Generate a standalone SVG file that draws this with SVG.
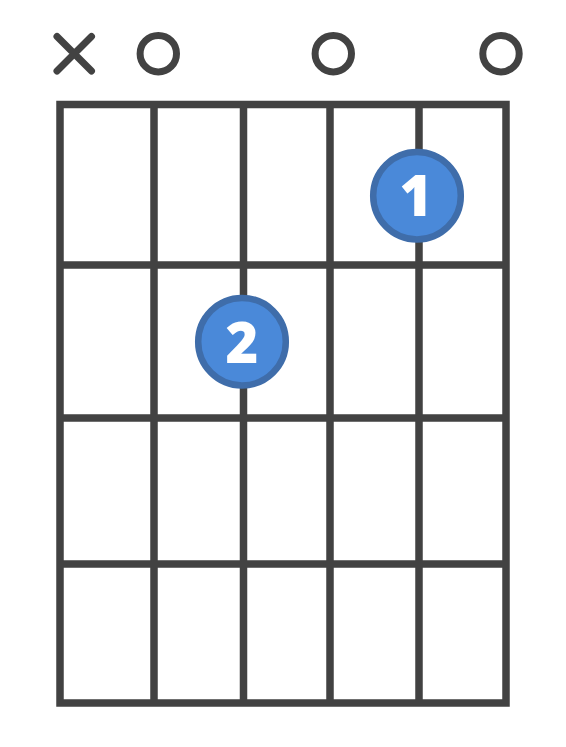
<svg xmlns="http://www.w3.org/2000/svg" width="566" height="747" viewBox="0 0 566 747">
<style>
.grid{stroke:#424242;stroke-width:7.5;fill:none;stroke-linecap:square}
.mark{stroke:#424242;stroke-width:7;fill:none;stroke-linecap:round}
.dot{fill:#4a89d9;stroke:#3f6daa;stroke-width:6.5}
.lbl{fill:#ffffff;font-family:"Open Sans","DejaVu Sans",sans-serif;font-weight:800;font-size:56px;text-anchor:middle}
</style>
<rect width="566" height="747" fill="#ffffff"/>
<g id="connectors">
<path class="grid" d="M60 104.5H506M60 265H506M60 418H506M60 564H506M60 703H506M60 104.5V703M154 104.5V703M243.5 104.5V703M330 104.5V703M419 104.5V703M506 104.5V703"/>
</g>
<g id="mute-x"><path class="mark" d="M57 36.5L91.5 71M91.5 36.5L57 71"/></g>
<g id="open-1"><circle class="mark" cx="158.3" cy="53.7" r="18.2"/></g>
<g id="open-2"><circle class="mark" cx="333.3" cy="53.7" r="18.2"/></g>
<g id="open-3"><circle class="mark" cx="501" cy="53.7" r="18.2"/></g>
<g id="finger-1"><circle class="dot" cx="417" cy="195.7" r="43.8"/><text class="lbl" x="416" y="215.5">1</text></g>
<g id="finger-2"><circle class="dot" cx="242" cy="341.7" r="43.8"/><text class="lbl" x="242" y="363">2</text></g>
</svg>
